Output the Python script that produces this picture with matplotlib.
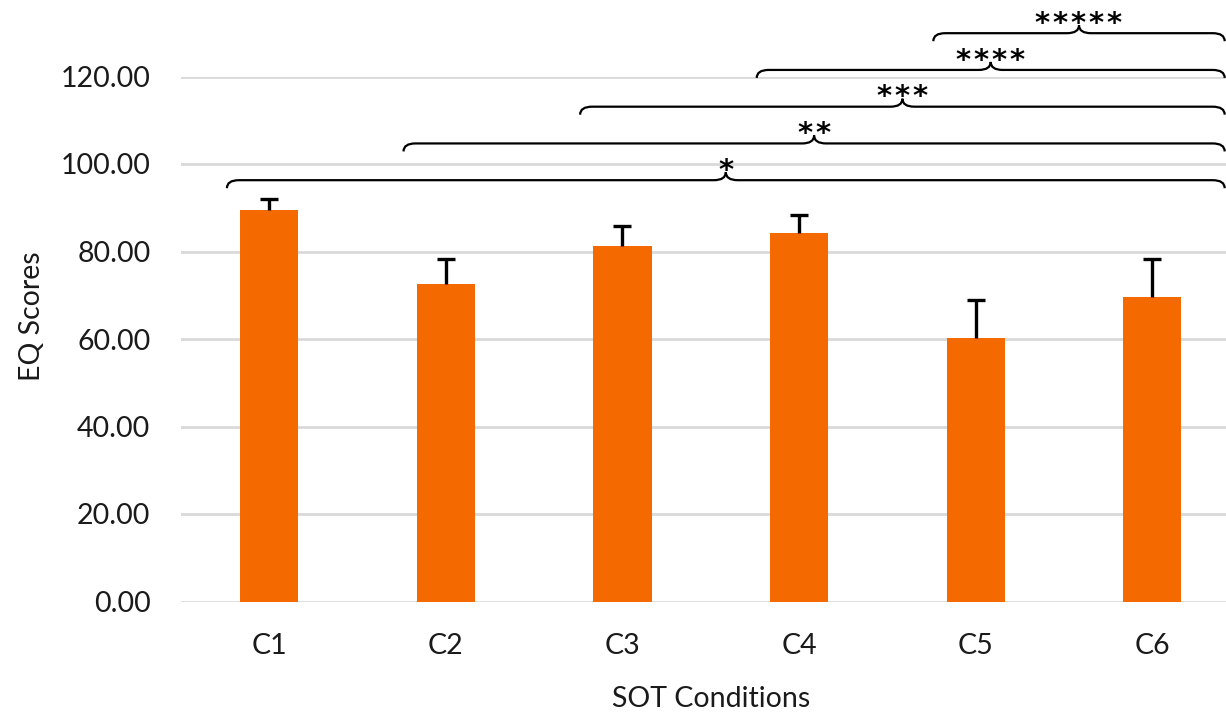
import matplotlib.pyplot as plt
from matplotlib.path import Path
from matplotlib.patches import PathPatch

conditions = ['C1', 'C2', 'C3', 'C4', 'C5', 'C6']
eq_scores = [89.4, 72.5, 81.3, 84.2, 60.3, 69.7]
eq_error = [2.5, 5.9, 4.6, 4.1, 8.6, 8.6]
y_ticks = [0, 20, 40, 60, 80, 100, 120]

# significance brackets: start condition index -> runs to the right end
sig_labels = ['*', '**', '***', '****', '*****']
sig_start = [0, 1, 2, 3, 4]

plt.rcParams['font.family'] = ['Lato', 'DejaVu Sans']
text_color = '#1a1a1a'
bar_color = '#F56A00'
fs = 20.5

W, H = 1226, 712
fig = plt.figure(figsize=(W / 100, H / 100), dpi=100)
left_px, right_px, top_px, bottom_px = 181, 1226, 76.5, 601.5
ax = fig.add_axes([left_px / W, 1 - bottom_px / H, (right_px - left_px) / W, (bottom_px - top_px) / H])

x = list(range(len(conditions)))
ax.bar(x, eq_scores, width=0.33, color=bar_color, zorder=3)

# upper error bars only
tops = [s + e for s, e in zip(eq_scores, eq_error)]
ax.vlines(x, eq_scores, tops, color='black', linewidth=2.4, zorder=4)
ax.plot(x, tops, linestyle='none', marker='_', markersize=12.5, markeredgewidth=2.4, color='black', zorder=4)

ax.set_xlim(-0.5, -0.5 + (right_px - left_px) / 176.6)
ax.set_ylim(0, 120)
ax.set_yticks(y_ticks)
ax.set_yticklabels([f'{v:.2f}' for v in y_ticks])
ax.set_xticks(x)
ax.set_xticklabels(conditions)
ax.tick_params(axis='both', length=0, labelsize=fs, labelcolor=text_color)
ax.tick_params(axis='y', pad=22)
ax.tick_params(axis='x', pad=23)
for s in ax.spines.values():
    s.set_visible(False)
ax.grid(axis='y', color='#d9d9d9', linewidth=2.0, zorder=0)
ax.set_axisbelow(True)

# curly brackets
px_x = 1 / 176.6
px_y = 120 / (bottom_px - top_px)
hx, hy = 12 * px_x, 8 * px_y
x_end = 5.41
for i, (lab, st) in enumerate(zip(sig_labels, sig_start)):
    x0 = st - 0.24
    y = 96.3 + 8.4 * i
    xm = (x0 + x_end) / 2
    verts = [(x0, y - hy), (x0, y), (x0 + hx, y),
             (xm - hx, y), (xm, y), (xm, y + hy),
             (xm, y), (xm + hx, y),
             (x_end - hx, y), (x_end, y), (x_end, y - hy)]
    codes = [Path.MOVETO, Path.CURVE3, Path.CURVE3,
             Path.LINETO, Path.CURVE3, Path.CURVE3,
             Path.CURVE3, Path.CURVE3,
             Path.LINETO, Path.CURVE3, Path.CURVE3]
    ax.add_patch(PathPatch(Path(verts, codes), fill=False, edgecolor='black',
                           linewidth=1.6, clip_on=False, zorder=5))
    ax.text(xm, y + 0.3, '\u200a'.join(lab), ha='center', va='baseline', fontsize=21,
            family='DejaVu Sans', fontweight='bold', color='black', clip_on=False)

fig.text(32 / W, 1 - 316 / H, 'EQ Scores', rotation=90, ha='center', va='center',
         fontsize=fs, color=text_color)
fig.text(711 / W, 1 - 707 / H, 'SOT Conditions', ha='center', va='baseline',
         fontsize=fs, color=text_color)

fig.savefig('out.png', dpi=100)
